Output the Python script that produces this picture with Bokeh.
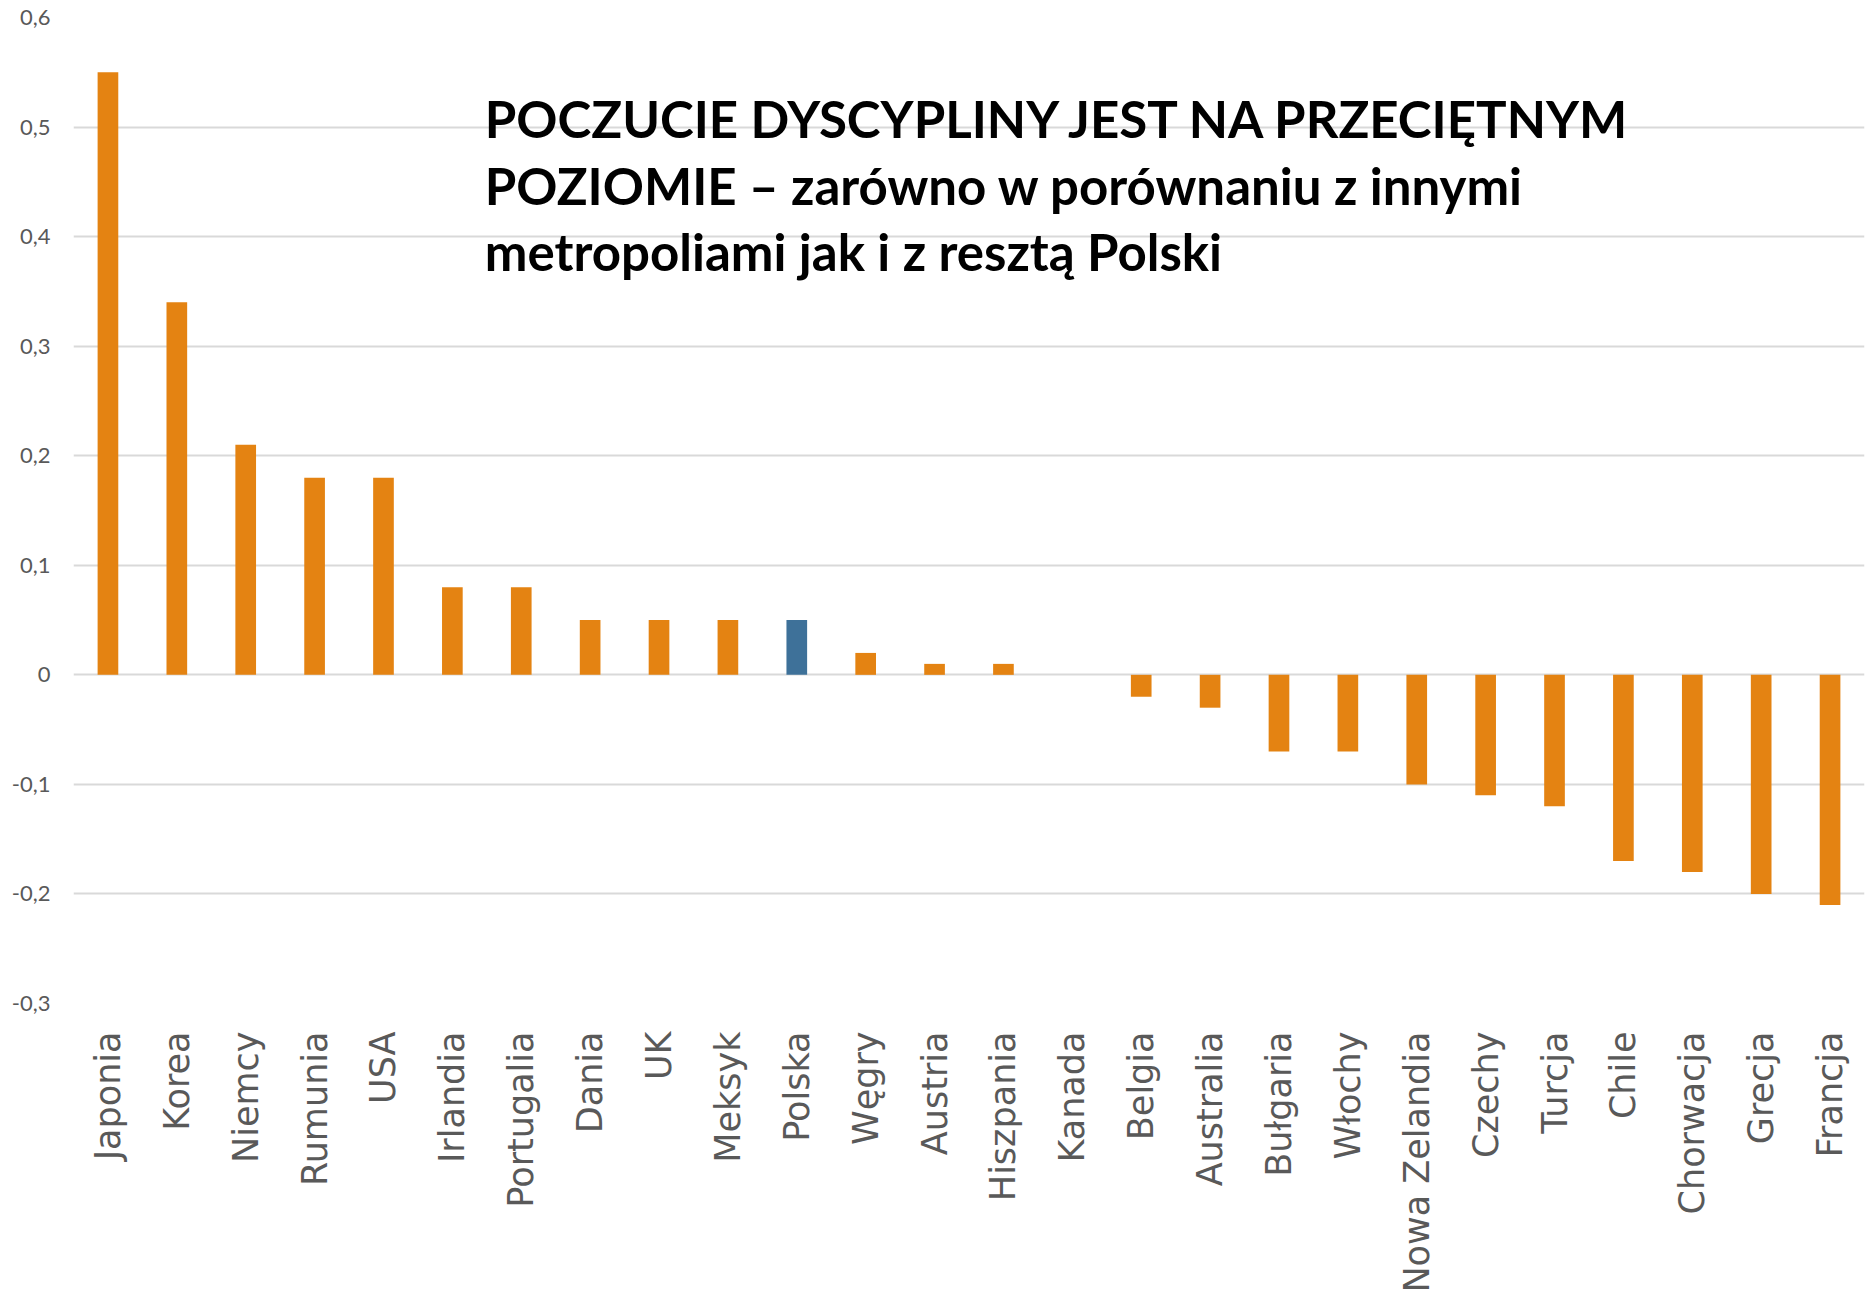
from bokeh.plotting import figure
from bokeh.models import FactorRange, FixedTicker, Label, ColumnDataSource
from bokeh.embed import file_html
from bokeh.resources import INLINE
import math

countries = ["Japonia", "Korea", "Niemcy", "Rumunia", "USA", "Irlandia", "Portugalia",
             "Dania", "UK", "Meksyk", "Polska", "Węgry", "Austria", "Hiszpania", "Kanada",
             "Belgia", "Australia", "Bułgaria", "Włochy", "Nowa Zelandia", "Czechy", "Turcja",
             "Chile", "Chorwacja", "Grecja", "Francja"]
values = [0.55, 0.34, 0.21, 0.18, 0.18, 0.08, 0.08, 0.05, 0.05, 0.05, 0.05, 0.02, 0.01, 0.01,
          0.0, -0.02, -0.03, -0.07, -0.07, -0.10, -0.11, -0.12, -0.17, -0.18, -0.20, -0.21]
highlight = "Polska"
y_ticks = [-0.3, -0.2, -0.1, 0.0, 0.1, 0.2, 0.3, 0.4, 0.5, 0.6]
y_tick_labels = ["-0,3", "-0,2", "-0,1", "0", "0,1", "0,2", "0,3", "0,4", "0,5", "0,6"]
title_lines = ["POCZUCIE DYSCYPLINY JEST NA PRZECIĘTNYM",
               "POZIOMIE – zarówno w porównaniu z innymi",
               "metropoliami jak i z resztą Polski"]

ORANGE = "#E48312"
BLUE = "#3E7199"
colors = [BLUE if c == highlight else ORANGE for c in countries]

src = ColumnDataSource(dict(x=countries, top=values, color=colors))

W, H = 1866, 1295
p = figure(x_range=FactorRange(*countries, range_padding=0), y_range=(-0.3, 0.6),
           width=W, height=H, output_backend="svg", toolbar_location=None,
           min_border_left=73, min_border_right=2, min_border_top=17, min_border_bottom=288)
p.outline_line_color = None
p.background_fill_color = "white"

p.vbar(x="x", top="top", bottom=0, width=0.3, fill_color="color", line_color=None, source=src)

p.xgrid.grid_line_color = None
p.ygrid.grid_line_color = "#D9D9D9"
p.ygrid.grid_line_width = 2
p.yaxis.ticker = FixedTicker(ticks=y_ticks)
p.yaxis.major_label_overrides = {t: l for t, l in zip(y_ticks, y_tick_labels)}
for ax in (p.xaxis, p.yaxis):
    ax.axis_line_color = None
    ax.major_tick_line_color = None
    ax.minor_tick_line_color = None
    ax.major_label_text_color = "#595959"
p.yaxis.major_label_text_font = "Lato"
p.yaxis.major_label_text_font_size = "22px"
p.yaxis.major_label_standoff = 17
p.xaxis.major_label_orientation = math.pi / 2
p.xaxis.major_label_text_font = "DejaVu Sans"
p.xaxis.major_label_text_font_size = "35px"
p.xaxis.major_label_standoff = 22

title_y = [0.508, 0.447, 0.386]
for line, ty in zip(title_lines, title_y):
    p.add_layout(Label(x=5.97, y=ty, text=line, text_font="Lato", text_font_style="bold",
                       text_font_size="51px", text_color="black", text_baseline="alphabetic"))

open("out.html", "w").write(file_html(p, INLINE))
